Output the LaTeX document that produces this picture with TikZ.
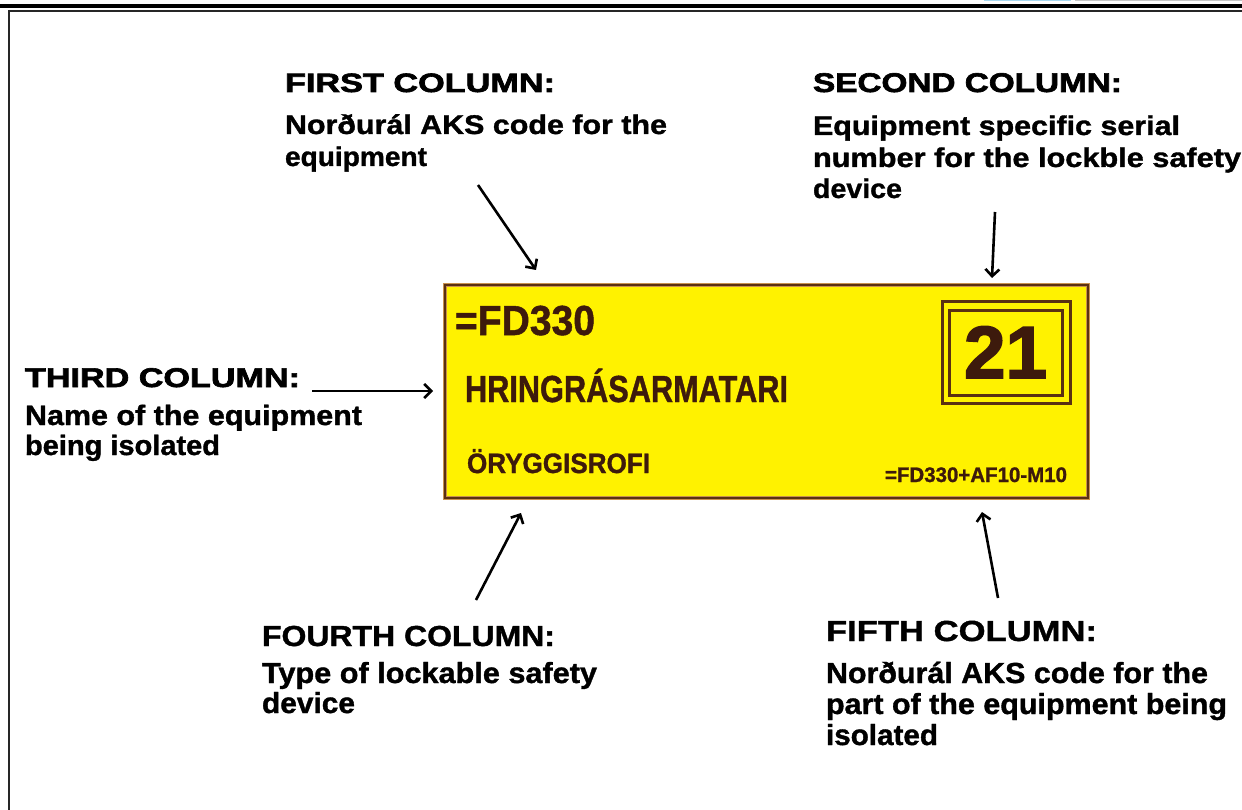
\documentclass[tikz,border=0pt]{standalone}
\usepackage{fontspec}
\usepackage{graphicx}
\setmainfont{Liberation Sans}
\newfontfamily\bodyfont{Liberation Sans}[UprightFont={* Bold}, UprightFeatures={FakeBold=1.2}]
\newfontfamily\heavyfont{Liberation Sans}[UprightFont={* Bold}, UprightFeatures={FakeBold=2.2}]
\usetikzlibrary{arrows.meta}

\definecolor{plateyellow}{HTML}{FFF200}
\definecolor{plateink}{HTML}{3D1A0C}
\definecolor{platerim}{HTML}{C8914E}
\definecolor{platerimdark}{HTML}{5A3012}
\definecolor{tabblue}{HTML}{A8D8F0}

% one line of text: size (pt), width (pt), text
\newcommand\fitline[3]{\resizebox{#2pt}{\height}{\fontsize{#1}{#1}\selectfont #3}}

\tikzset{
  txt/.style={inner sep=0pt, outer sep=0pt, anchor=base west, text=black, font=\bodyfont},
  headtxt/.style={txt, font=\heavyfont},
  platetxt/.style={txt, text=plateink},
  pointer/.style={line width=2.6pt, -{Straight Barb[length=7pt,width=14pt]}},
  frameline/.style={line width=1.6pt, black!85},
}

\begin{document}
\begin{tikzpicture}[x=1pt, y=-1pt]
\useasboundingbox (0,0) rectangle (1242,810);
\fill[white] (0,0) rectangle (1242,810);

% page frame
\fill[tabblue] (984,0) rectangle (1071,1.4);
\fill[black!22] (1075,0) rectangle (1242,1.4);
\fill[black] (0,4) rectangle (1242,8.5);
\draw[frameline] (8,10.8) -- (1242,10.8);
\draw[frameline] (8.8,10) -- (8.8,810);

% the yellow tag
\filldraw[fill=plateyellow, draw=platerim, line width=4pt] (445,285) rectangle (1088,498);
\draw[platerimdark, line width=1.4pt] (445,285) rectangle (1088,498);
\node[platetxt] (code) at (455,335) {\fitline{42}{140}{=FD330}};
\node[platetxt] (name) at (465,402) {\fitline{37.7}{323}{HRINGRÁSARMATARI}};
\node[platetxt] (type) at (467,473) {\fitline{28}{183}{ÖRYGGISROFI}};
\node[platetxt] (part) at (885,482) {\fitline{21}{182}{=FD330+AF10-M10}};
\draw[platerimdark, line width=3pt] (942,302) rectangle (1070,403);
\draw[platerimdark, line width=3pt] (949,311) rectangle (1062,395);
\node[platetxt, font=\heavyfont] (serial) at (964,378) {\fitline{74}{83}{21}};

% first column
\node[headtxt] (h1) at (285,92) {\fitline{26.5}{270}{FIRST COLUMN:}};
\node[txt] (t1a) at (285,134) {\fitline{27}{382}{Norðurál AKS code for the}};
\node[txt] (t1b) at (285,166) {\fitline{27}{142}{equipment}};

% second column
\node[headtxt] (h2) at (813,92) {\fitline{27}{309}{SECOND COLUMN:}};
\node[txt] (t2a) at (813,135) {\fitline{27}{367}{Equipment specific serial}};
\node[txt] (t2b) at (813,167) {\fitline{27}{428}{number for the lockble safety}};
\node[txt] (t2c) at (813,198) {\fitline{27}{89}{device}};

% third column
\node[headtxt] (h3) at (25,387) {\fitline{27}{275}{THIRD COLUMN:}};
\node[txt] (t3a) at (25,425) {\fitline{28}{337}{Name of the equipment}};
\node[txt] (t3b) at (25,455) {\fitline{28}{195}{being isolated}};

% fourth column
\node[txt] (h4) at (262,646) {\fitline{29}{293}{FOURTH COLUMN:}};
\node[txt] (t4a) at (262,683) {\fitline{29}{335}{Type of lockable safety}};
\node[txt] (t4b) at (262,713) {\fitline{29}{93}{device}};

% fifth column
\node[txt] (h5) at (826,641) {\fitline{29}{271}{FIFTH COLUMN:}};
\node[txt] (t5a) at (826,683) {\fitline{29}{382}{Norðurál AKS code for the}};
\node[txt] (t5b) at (826,714) {\fitline{29}{401}{part of the equipment being}};
\node[txt] (t5c) at (826,745) {\fitline{29}{112}{isolated}};

% pointers
\coordinate (p1s) at (478,185); \coordinate (p1e) at (536,270);
\coordinate (p2s) at (995,212); \coordinate (p2e) at (992,278);
\coordinate (p3s) at (312,391); \coordinate (p3e) at (433,391);
\coordinate (p4s) at (476,600); \coordinate (p4e) at (521,513);
\coordinate (p5s) at (998,598); \coordinate (p5e) at (982,512);
\draw[pointer] (p1s) -- (p1e);
\draw[pointer] (p2s) -- (p2e);
\draw[pointer] (p3s) -- (p3e);
\draw[pointer] (p4s) -- (p4e);
\draw[pointer] (p5s) -- (p5e);
\end{tikzpicture}
\end{document}
